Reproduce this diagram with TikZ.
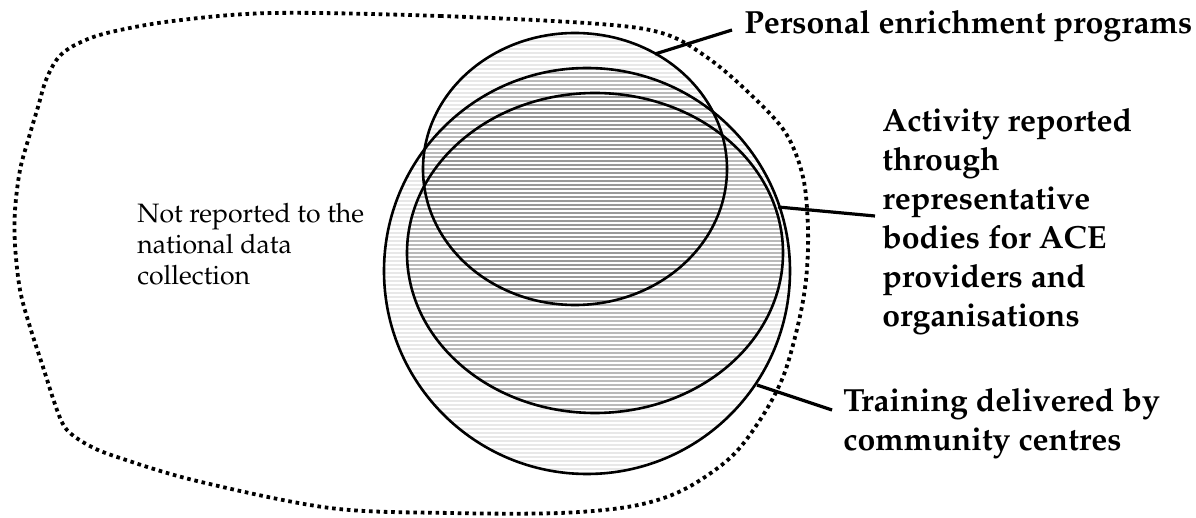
\documentclass[tikz,border=0pt]{standalone}
\usepackage[T1]{fontenc}
\renewcommand{\rmdefault}{ppl}
\begin{document}
\begin{tikzpicture}[x=0.5pt,y=-0.5pt,
  lbl/.style={font=\fontsize{16}{19.5}\selectfont\bfseries, anchor=base west, inner sep=0pt},
  note/.style={font=\fontsize{13.3}{15.5}\selectfont, anchor=base west, inner sep=0pt},
  ring/.style={draw=black, line width=1.3pt},
  leader/.style={draw=black, line width=1.6pt},
  blob/.style={draw=black, line width=1.9pt, dash pattern=on 1.8pt off 1.9pt},
  lightfill/.style={fill=black!9},
  midfill/.style={fill=black!27},
  darkfill/.style={fill=black!40},
  hatch/.style={draw=white, line width=0.7pt}]
\useasboundingbox (0,0) rectangle (1196,518);
% centres
\coordinate (cP) at (575,169);
\coordinate (cA) at (595,253);
\coordinate (cT) at (587,271);
% fills
\path[lightfill] (cP) ellipse [x radius=152, y radius=136]
                 (cA) ellipse [x radius=188, y radius=160]
                 (cT) ellipse [x radius=203, y radius=203];
\begin{scope}
  \clip (cP) ellipse [x radius=152, y radius=136];
  \path[midfill] (cA) ellipse [x radius=188, y radius=160]
                 (cT) ellipse [x radius=203, y radius=203];
\end{scope}
\begin{scope}
  \clip (cA) ellipse [x radius=188, y radius=160];
  \path[midfill] (cT) ellipse [x radius=203, y radius=203];
\end{scope}
\begin{scope}
  \clip (cP) ellipse [x radius=152, y radius=136];
  \clip (cA) ellipse [x radius=188, y radius=160];
  \path[darkfill] (cT) ellipse [x radius=203, y radius=203];
\end{scope}
% hatching
\foreach \yy in {35,39,...,476} \draw[hatch] (380,\yy) -- (795,\yy);
% outlines
\draw[ring] (cT) ellipse [x radius=203, y radius=203];
\draw[ring] (cA) ellipse [x radius=188, y radius=160];
\draw[ring] (cP) ellipse [x radius=152, y radius=136];
% dotted boundary
\draw[blob] plot[smooth cycle, tension=0.55] coordinates {
  (273,13) (440,16) (600,24) (665,34) (708,58) (748,92) (785,132)
  (803,177) (808,230) (806,280) (798,325) (783,377) (760,420) (730,458)
  (683,490) (633,506) (560,513) (450,513) (330,508) (197,481) (117,457)
  (88,445) (67,430) (57,410) (43,367) (30,327) (20,290) (15,245) (15,210)
  (20,170) (29,137) (38,107) (46,80) (58,58) (75,45) (107,33) (173,21)};
% labels
\node[lbl] (labP) at (744,34) {Personal enrichment programs};
\node[lbl] (labA) at (882,132) {\begin{tabular}[t]{@{}l@{}}Activity reported\\through\\representative\\bodies for ACE\\providers and\\organisations\end{tabular}};
\node[lbl] (labT) at (843,412) {\begin{tabular}[t]{@{}l@{}}Training delivered by\\community centres\end{tabular}};
\node[note] (labN) at (137,223) {\begin{tabular}[t]{@{}l@{}}Not reported to the\\national data\\collection\end{tabular}};
% connector ends
\coordinate (pOn) at (655,54);
\coordinate (pEnd) at (732,30);
\coordinate (aOn) at (778,207);
\coordinate (aEnd) at (875,216);
\coordinate (tOn) at (757,385);
\coordinate (tEnd) at (832,410);
\draw[leader] (pOn) -- (pEnd);
\draw[leader] (aOn) -- (aEnd);
\draw[leader] (tOn) -- (tEnd);
\end{tikzpicture}
\end{document}
